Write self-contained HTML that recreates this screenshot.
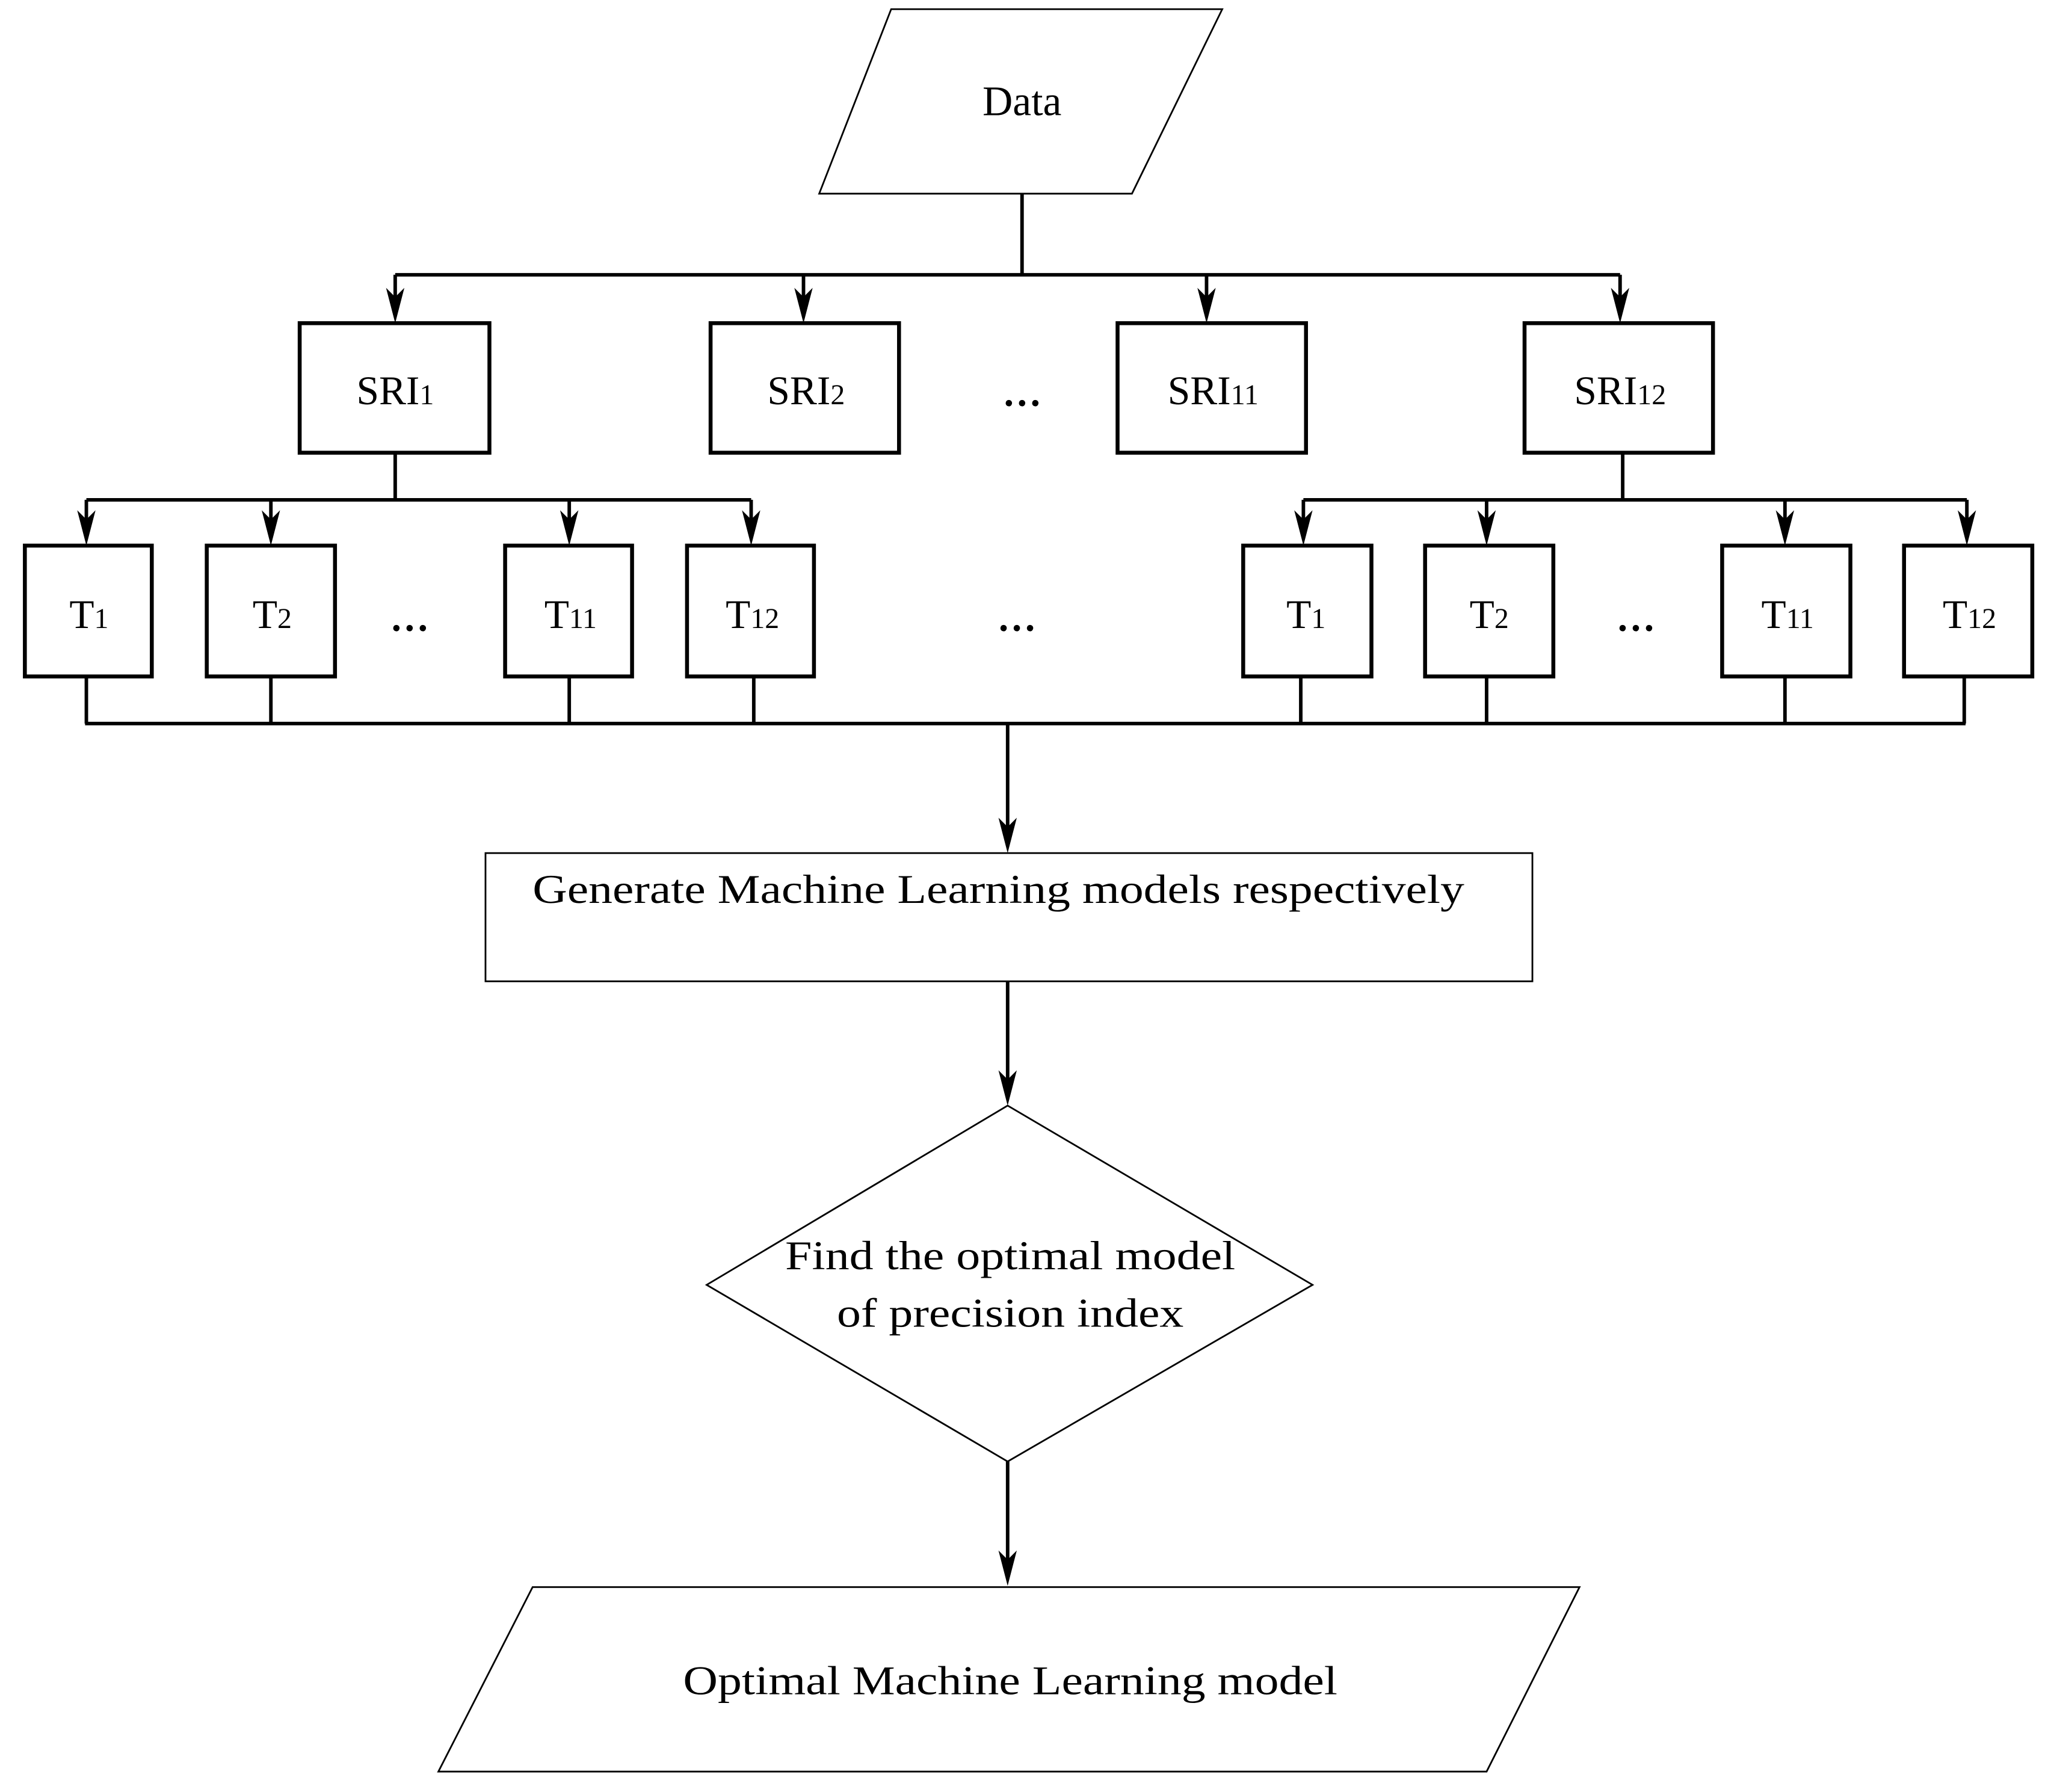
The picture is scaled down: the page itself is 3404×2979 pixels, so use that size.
<!DOCTYPE html>
<html><head><meta charset="utf-8"><style>
html,body{margin:0;padding:0;background:#fff;}
svg{display:block;}
text{font-family:"Liberation Serif",serif;fill:#000;}
</style></head><body>
<svg width="3404" height="2979" viewBox="0 0 1565 1369.6" xmlns="http://www.w3.org/2000/svg">
<defs>
<path id="h" d="M-7,-27 L0,-20 L7,-27 L0,0 Z" fill="#000" stroke="none"/>
</defs>
<rect width="1565" height="1369.6" fill="#fff"/>
<g fill="none" stroke="#000">
<polygon points="681,7 934,7 865,148 626,148" stroke-width="1.3"/>
<g stroke-width="2.7">
<line x1="781" y1="148" x2="781" y2="210"/>
<line x1="302" y1="210" x2="1238" y2="210"/>
<line x1="302" y1="210" x2="302" y2="232"/>
<line x1="614" y1="210" x2="614" y2="232"/>
<line x1="922" y1="210" x2="922" y2="232"/>
<line x1="1238" y1="210" x2="1238" y2="232"/>

<line x1="302" y1="346" x2="302" y2="382"/>
<line x1="66" y1="382" x2="574" y2="382"/>
<line x1="66" y1="382" x2="66" y2="402"/>
<line x1="207" y1="382" x2="207" y2="402"/>
<line x1="435" y1="382" x2="435" y2="402"/>
<line x1="574" y1="382" x2="574" y2="402"/>

<line x1="1240" y1="346" x2="1240" y2="382"/>
<line x1="996" y1="382" x2="1503" y2="382"/>
<line x1="996" y1="382" x2="996" y2="402"/>
<line x1="1136" y1="382" x2="1136" y2="402"/>
<line x1="1364" y1="382" x2="1364" y2="402"/>
<line x1="1503" y1="382" x2="1503" y2="402"/>

<line x1="66" y1="517" x2="66" y2="553"/>
<line x1="207" y1="517" x2="207" y2="553"/>
<line x1="435" y1="517" x2="435" y2="553"/>
<line x1="576" y1="517" x2="576" y2="553"/>
<line x1="994" y1="517" x2="994" y2="553"/>
<line x1="1136" y1="517" x2="1136" y2="553"/>
<line x1="1364" y1="517" x2="1364" y2="553"/>
<line x1="1501" y1="517" x2="1501" y2="553"/>
<line x1="65" y1="553" x2="1502" y2="553"/>

<line x1="770" y1="553" x2="770" y2="636"/>
<line x1="770" y1="750" x2="770" y2="830"/>
<line x1="770" y1="1117" x2="770" y2="1196"/>
</g>
<g stroke-width="3">
<rect x="229" y="247" width="145" height="99"/>
<rect x="543" y="247" width="144" height="99"/>
<rect x="854" y="247" width="144" height="99"/>
<rect x="1165" y="247" width="144" height="99"/>
<rect x="19" y="417" width="97" height="100"/>
<rect x="158" y="417" width="98" height="100"/>
<rect x="386" y="417" width="97" height="100"/>
<rect x="525" y="417" width="97" height="100"/>
<rect x="950" y="417" width="98" height="100"/>
<rect x="1089" y="417" width="98" height="100"/>
<rect x="1316" y="417" width="98" height="100"/>
<rect x="1455" y="417" width="98" height="100"/>
</g>
<rect x="371" y="652" width="800" height="98" stroke-width="1.3"/>
<polygon points="770,845 1003,982 770,1117 540,982" stroke-width="1.3"/>
<polygon points="407,1213 1207,1213 1136,1354 335,1354" stroke-width="1.3"/>
</g>
<use href="#h" x="302" y="247"/>
<use href="#h" x="614" y="247"/>
<use href="#h" x="922" y="247"/>
<use href="#h" x="1238" y="247"/>
<use href="#h" x="66" y="417"/>
<use href="#h" x="207" y="417"/>
<use href="#h" x="435" y="417"/>
<use href="#h" x="574" y="417"/>
<use href="#h" x="996" y="417"/>
<use href="#h" x="1136" y="417"/>
<use href="#h" x="1364" y="417"/>
<use href="#h" x="1503" y="417"/>
<use href="#h" x="770" y="652"/>
<use href="#h" x="770" y="845"/>
<use href="#h" x="770" y="1212"/>
<g font-size="31" text-anchor="middle">
<text x="781" y="88" font-size="32">Data</text>
<text x="302" y="309">SRI<tspan font-size="22">1</tspan></text>
<text x="616" y="309">SRI<tspan font-size="22">2</tspan></text>
<text x="927" y="309">SRI<tspan font-size="22">11</tspan></text>
<text x="1238" y="309">SRI<tspan font-size="22">12</tspan></text>
<text x="68" y="480">T<tspan font-size="22">1</tspan></text>
<text x="208" y="480">T<tspan font-size="22">2</tspan></text>
<text x="436" y="480">T<tspan font-size="22">11</tspan></text>
<text x="575" y="480">T<tspan font-size="22">12</tspan></text>
<text x="998" y="480">T<tspan font-size="22">1</tspan></text>
<text x="1138" y="480">T<tspan font-size="22">2</tspan></text>
<text x="1366" y="480">T<tspan font-size="22">11</tspan></text>
<text x="1505" y="480">T<tspan font-size="22">12</tspan></text>
<text x="781" y="310" font-weight="bold" font-size="30">…</text>
<text x="313" y="482" font-weight="bold" font-size="30">…</text>
<text x="777" y="482" font-weight="bold" font-size="30">…</text>
<text x="1250" y="482" font-weight="bold" font-size="30">…</text>
<text x="763" y="690" textLength="712" lengthAdjust="spacingAndGlyphs">Generate Machine Learning models respectively</text>
<text x="772" y="970" textLength="344" lengthAdjust="spacingAndGlyphs">Find the optimal model</text>
<text x="772" y="1014" textLength="265" lengthAdjust="spacingAndGlyphs">of precision index</text>
<text x="772" y="1295" textLength="500" lengthAdjust="spacingAndGlyphs">Optimal Machine Learning model</text>
</g>
</svg>
</body></html>
